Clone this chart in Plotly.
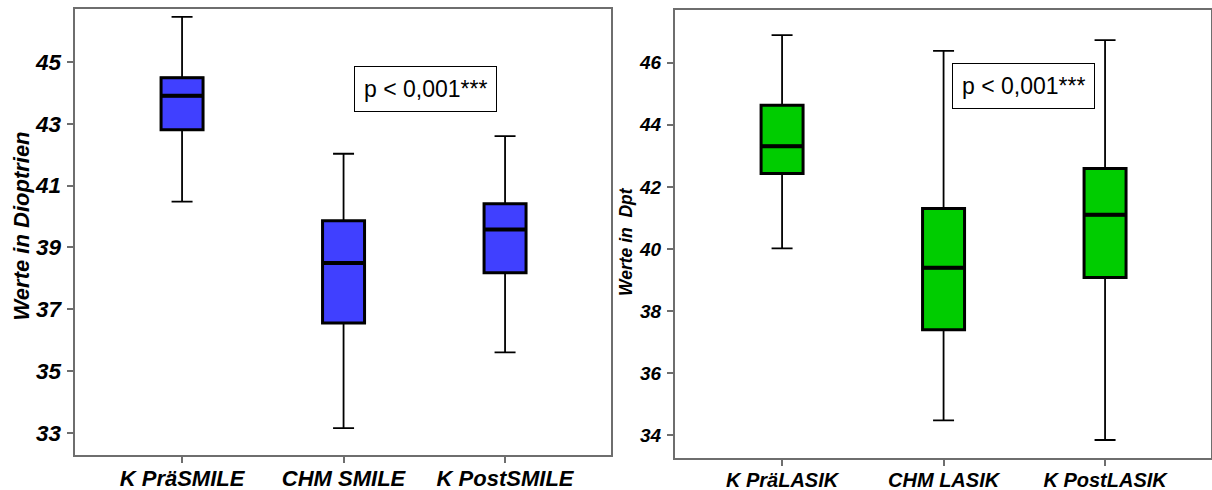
import plotly.graph_objects as go

# ---- data ----
smile_cats = ["K PräSMILE", "CHM SMILE", "K PostSMILE"]
smile_low = [40.48, 33.15, 35.60]
smile_q1 = [42.81, 36.55, 38.18]
smile_med = [43.91, 38.49, 39.58]
smile_q3 = [44.49, 39.86, 40.41]
smile_high = [46.46, 42.03, 42.60]

lasik_cats = ["K PräLASIK", "CHM LASIK", "K PostLASIK"]
lasik_low = [40.02, 34.47, 33.84]
lasik_q1 = [42.43, 37.39, 39.08]
lasik_med = [43.31, 39.39, 41.10]
lasik_q3 = [44.63, 41.30, 42.59]
lasik_high = [46.89, 46.38, 46.73]

smile_ticks = [33, 35, 37, 39, 41, 43, 45]
lasik_ticks = [34, 36, 38, 40, 42, 44, 46]
p_text = "p < 0,001***"
smile_ytitle = "Werte in Dioptrien"
lasik_ytitle = "Werte in  Dpt"

BLUE = "#4040FF"
GREEN = "#00CC00"
FONT = "Liberation Sans"

fig = go.Figure()


def add_boxes(cats, low, q1, med, q3, high, color, xa, ya):
    common = dict(x=cats, fillcolor=color, width=0.26, boxpoints=False,
                  xaxis=xa, yaxis=ya, showlegend=False, hoverinfo="skip")
    # whiskers (thin lines)
    fig.add_trace(go.Box(q1=q1, median=med, q3=q3, lowerfence=low, upperfence=high,
                         line=dict(color="black", width=1.8), whiskerwidth=0.5, **common))
    # box outline (thick lines)
    fig.add_trace(go.Box(q1=q1, median=med, q3=q3, lowerfence=q1, upperfence=q3,
                         line=dict(color="black", width=3), whiskerwidth=0.0, **common))
    # median (thicker line)
    fig.add_trace(go.Box(q1=med, median=med, q3=med, lowerfence=med, upperfence=med,
                         line=dict(color="black", width=4), whiskerwidth=0.0, **common))


add_boxes(smile_cats, smile_low, smile_q1, smile_med, smile_q3, smile_high, BLUE, "x", "y")
add_boxes(lasik_cats, lasik_low, lasik_q1, lasik_med, lasik_q3, lasik_high, GREEN, "x2", "y2")

W, H = 1212, 490
axcommon = dict(showline=True, mirror=True, linecolor="#6e6e6e", linewidth=2,
                showgrid=False, zeroline=False, ticks="outside", ticklen=6,
                tickcolor="#6e6e6e", tickwidth=1.5, automargin=False)


def bi(size):
    return dict(family=FONT, size=size, color="black", weight="bold", style="italic")


fig.update_layout(
    width=W, height=H, margin=dict(l=0, r=0, t=0, b=0, autoexpand=False),
    paper_bgcolor="white", plot_bgcolor="white", boxmode="overlay",
    xaxis=dict(domain=[74.5 / W, 611 / W], range=[-0.666, 2.656],
               type="category", anchor="y", tickfont=bi(22), ticklabelstandoff=-3,
               **axcommon),
    yaxis=dict(domain=[1 - 455 / H, 1 - 8.5 / H], range=[32.28, 46.73], anchor="x",
               tickvals=smile_ticks, ticklabelstandoff=1, tickfont=bi(22.5), **axcommon),
    xaxis2=dict(domain=[675 / W, 1211 / W], range=[-0.663, 2.656],
                type="category", anchor="y2", tickfont=bi(20), ticklabelstandoff=-3,
                **axcommon),
    yaxis2=dict(domain=[1 - 457.7 / H, 1 - 10 / H], range=[33.27, 47.70], anchor="x2",
                tickvals=lasik_ticks, ticklabelstandoff=2, tickfont=bi(19), **axcommon),
    annotations=[
        dict(text=smile_ytitle, x=21 / W, y=1 - 226.5 / H, xref="paper", yref="paper",
             textangle=-90, showarrow=False, xanchor="center", yanchor="middle", font=bi(22)),
        dict(text=lasik_ytitle, x=626 / W, y=1 - 242 / H, xref="paper", yref="paper",
             textangle=-90, showarrow=False, xanchor="center", yanchor="middle", font=bi(17.5)),
        dict(text=p_text, x=1.51, y=44.11, xref="x", yref="y", showarrow=False,
             font=dict(family=FONT, size=23, color="black"),
             bordercolor="black", borderwidth=1, borderpad=9, bgcolor="white"),
        dict(text=p_text, x=1.497, y=45.25, xref="x2", yref="y2", showarrow=False,
             font=dict(family=FONT, size=23, color="black"),
             bordercolor="black", borderwidth=1, borderpad=9, bgcolor="white"),
    ],
)

fig.write_html("out.html")
